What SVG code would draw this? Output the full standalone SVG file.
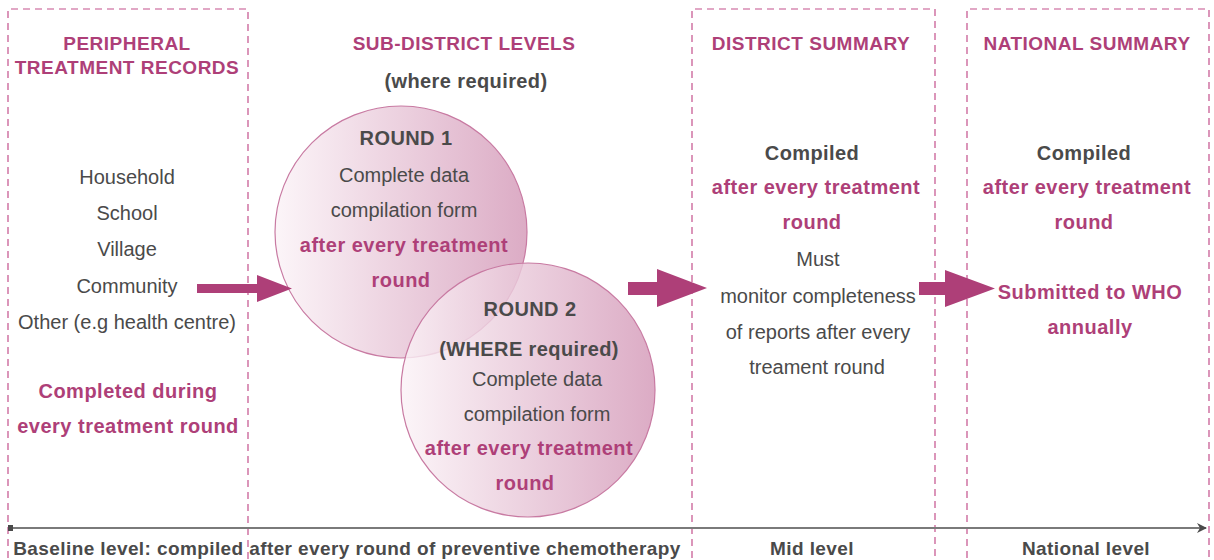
<svg xmlns="http://www.w3.org/2000/svg" width="1214" height="560" viewBox="0 0 1214 560">
<defs>
<linearGradient id="cg" x1="0" y1="0" x2="1" y2="0">
<stop offset="0" stop-color="#fbf3f7"/>
<stop offset="1" stop-color="#d499b8"/>
</linearGradient>
<marker id="ah" viewBox="0 0 10 10" refX="9" refY="5" markerWidth="12" markerHeight="10" markerUnits="userSpaceOnUse" orient="auto">
<path d="M0,0 L10,5 L0,10 L3,5 Z" fill="#4a4a4a"/>
</marker>
<style>
text{font-family:"Liberation Sans",Arial,sans-serif;text-anchor:middle}
.h{font-size:19px;font-weight:bold;fill:#ae3f78;letter-spacing:0.5px}
.b{font-size:20px;font-weight:bold;fill:#ae3f78;letter-spacing:0.5px}
.d{font-size:20px;font-weight:bold;fill:#4a4a4a;letter-spacing:0.4px}
.f{font-size:19px;font-weight:bold;fill:#4a4a4a;letter-spacing:0.4px}
.r{font-size:20px;fill:#4a4a4a}
.box{fill:none;stroke:#c4508c;stroke-width:1.2;stroke-dasharray:7 5}
.circ{fill:url(#cg);fill-opacity:0.82;stroke:#c87aa2;stroke-width:1.2}
.arr{fill:#ae3f78}
</style>
</defs>
<rect width="1214" height="560" fill="#ffffff"/>

<g id="col-peripheral">
<path class="box" d="M8,570 V9 H248 V570"/>
<text class="h" x="127" y="50">PERIPHERAL</text>
<text class="h" x="127" y="74">TREATMENT RECORDS</text>
<text class="r" x="127" y="184">Household</text>
<text class="r" x="127" y="220">School</text>
<text class="r" x="127" y="256">Village</text>
<text class="r" x="127" y="293">Community</text>
<text class="r" x="127" y="329">Other (e.g health centre)</text>
<text class="b" x="128" y="398">Completed during</text>
<text class="b" x="128" y="433">every treatment round</text>
</g>

<g id="col-subdistrict">
<text class="h" x="464" y="50">SUB-DISTRICT LEVELS</text>
<text class="d" x="466" y="88">(where required)</text>
</g>

<g id="round1">
<circle class="circ" cx="401" cy="232" r="126"/>
<text class="d" x="406" y="145">ROUND 1</text>
<text class="r" x="404" y="182">Complete data</text>
<text class="r" x="404" y="217">compilation form</text>
<text class="b" x="404" y="252">after every treatment</text>
<text class="b" x="401" y="287">round</text>
</g>

<g id="round2">
<circle class="circ" cx="528" cy="390" r="127"/>
<text class="d" x="530" y="316">ROUND 2</text>
<text class="d" x="529" y="356">(WHERE required)</text>
<text class="r" x="537" y="386">Complete data</text>
<text class="r" x="537" y="421">compilation form</text>
<text class="b" x="529" y="455">after every treatment</text>
<text class="b" x="525" y="490">round</text>
</g>

<g id="col-district">
<path class="box" d="M692,570 V9 H935 V570"/>
<text class="h" x="811" y="50">DISTRICT SUMMARY</text>
<text class="d" x="812" y="160">Compiled</text>
<text class="b" x="816" y="194">after every treatment</text>
<text class="b" x="812" y="229">round</text>
<text class="r" x="818" y="266">Must</text>
<text class="r" x="818" y="303">monitor completeness</text>
<text class="r" x="818" y="339">of reports after every</text>
<text class="r" x="817" y="374">treament round</text>
</g>

<g id="col-national">
<path class="box" d="M967,570 V9 H1209 V570"/>
<text class="h" x="1087" y="50">NATIONAL SUMMARY</text>
<text class="d" x="1084" y="160">Compiled</text>
<text class="b" x="1087" y="194">after every treatment</text>
<text class="b" x="1084" y="229">round</text>
<text class="b" x="1090" y="299">Submitted to WHO</text>
<text class="b" x="1090" y="334">annually</text>
</g>

<g id="connectors">
<polygon class="arr" points="197,284 257,284 257,275 292,288.5 257,302 257,293 197,293"/>
<polygon class="arr" points="628,282 657,282 657,269 707,288 657,307 657,295 628,295"/>
<polygon class="arr" points="919,282 945,282 945,270 995,288.5 945,307 945,295 919,295"/>
<line x1="10" y1="528" x2="1206" y2="528" stroke="#7a7a7a" stroke-width="2" marker-end="url(#ah)"/>
<rect x="8" y="525" width="5" height="6" fill="#4a4a4a"/>
</g>

<g id="levels">
<text class="f" x="347" y="555">Baseline level: compiled after every round of preventive chemotherapy</text>
<text class="f" x="812" y="555">Mid level</text>
<text class="f" x="1086" y="555">National level</text>
</g>
</svg>
